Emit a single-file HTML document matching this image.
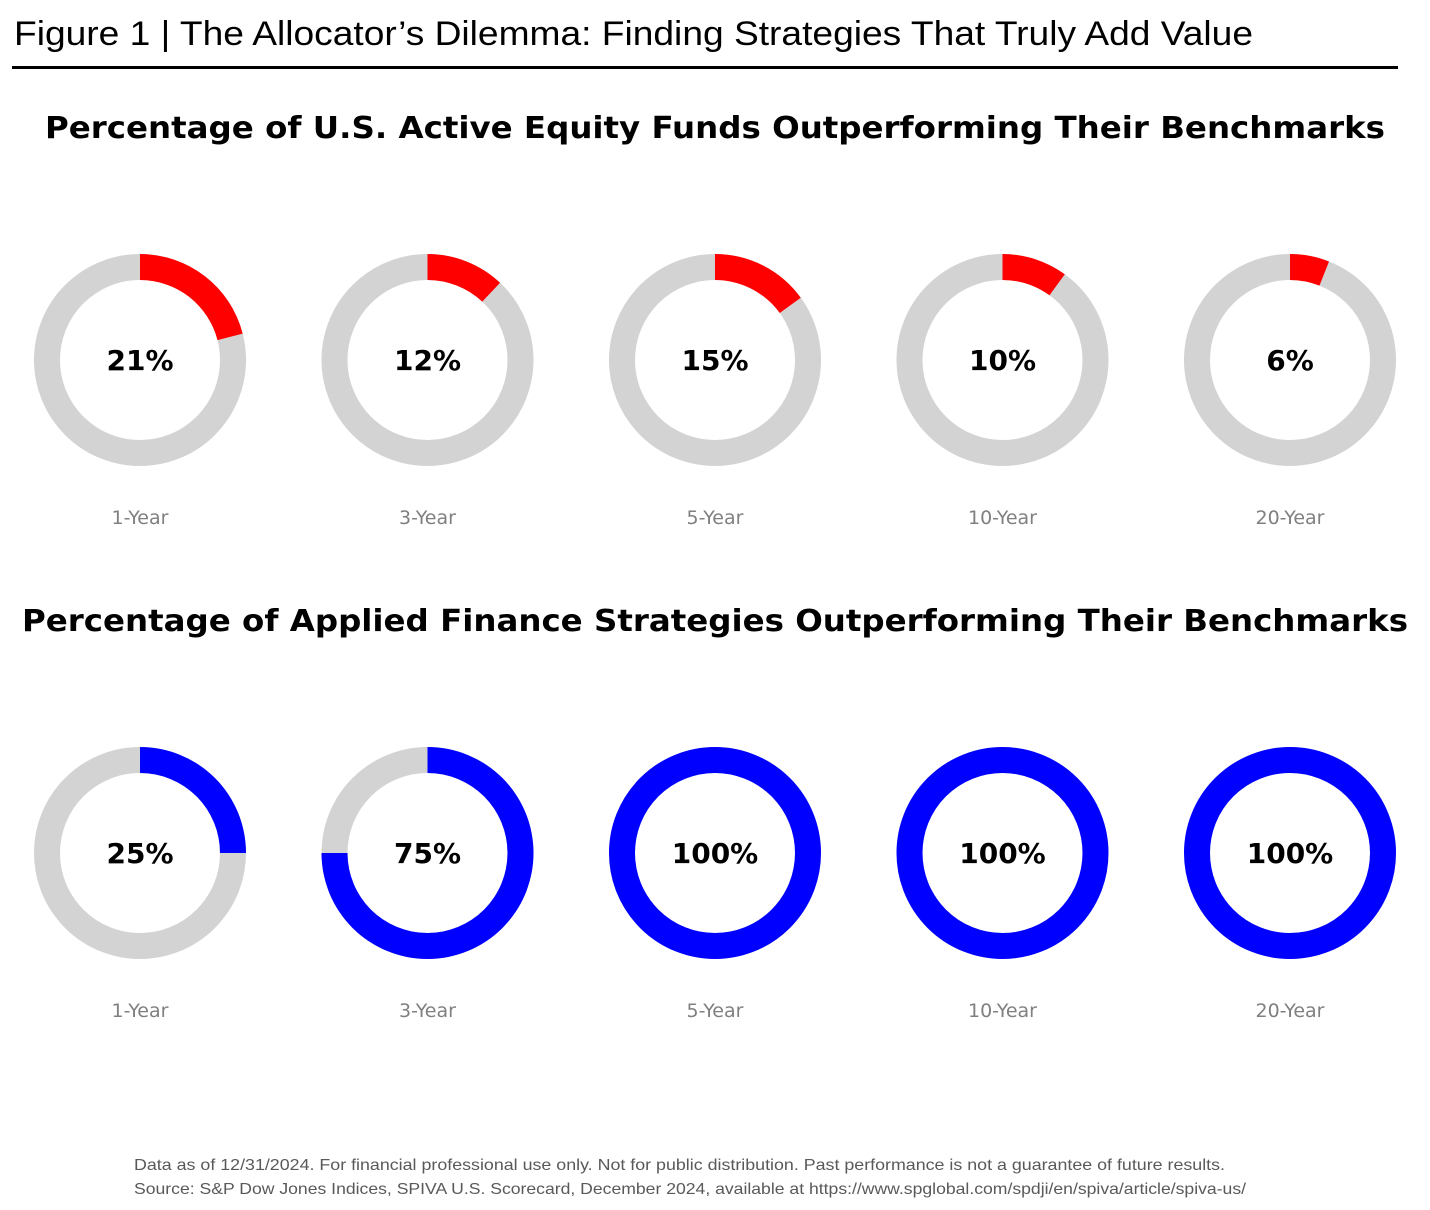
<!DOCTYPE html>
<html><head><meta charset="utf-8"><style>
html,body{margin:0;padding:0;background:#fff;}
svg{display:block;}
</style></head><body>
<svg id="chart" width="1430" height="1210" viewBox="0 0 1430 1210" xmlns="http://www.w3.org/2000/svg">
<text x="14" y="45" font-family="Liberation Sans, sans-serif" font-size="34" fill="#000" textLength="1239" lengthAdjust="spacingAndGlyphs">Figure 1 | The Allocator’s Dilemma: Finding Strategies That Truly Add Value</text>
<rect x="12" y="66" width="1386" height="3" fill="#000"/>
<text x="45" y="138" font-family="DejaVu Sans, sans-serif" font-weight="bold" font-size="30" fill="#000" textLength="1340" lengthAdjust="spacingAndGlyphs">Percentage of U.S. Active Equity Funds Outperforming Their Benchmarks</text>
<text x="22" y="631" font-family="DejaVu Sans, sans-serif" font-weight="bold" font-size="30" fill="#000" textLength="1386" lengthAdjust="spacingAndGlyphs">Percentage of Applied Finance Strategies Outperforming Their Benchmarks</text>
<g id="rows"></g>
<text x="134" y="1170" font-family="Liberation Sans, sans-serif" font-size="16" fill="#595959" textLength="1091" lengthAdjust="spacingAndGlyphs">Data as of 12/31/2024. For financial professional use only. Not for public distribution. Past performance is not a guarantee of future results.</text>
<text x="134" y="1194" font-family="Liberation Sans, sans-serif" font-size="16" fill="#595959" textLength="1112" lengthAdjust="spacingAndGlyphs">Source: S&amp;P Dow Jones Indices, SPIVA U.S. Scorecard, December 2024, available at https://www.spglobal.com/spdji/en/spiva/article/spiva-us/</text>
</svg>
<script>
const periods = ["1-Year","3-Year","5-Year","10-Year","20-Year"];
const spivaValues = [21,12,15,10,6];
const appliedValues = [25,75,100,100,100];

const NS = "http://www.w3.org/2000/svg";
const g = document.getElementById("rows");
const x0 = 140, dx = 287.5, R = 106, r = 80;
function xPos(i){ return x0 + i*dx; }
function arcPath(cx, cy, frac){
  const a = frac*2*Math.PI;
  const ex=cx+R*Math.sin(a), ey=cy-R*Math.cos(a);
  const ix=cx+r*Math.sin(a), iy=cy-r*Math.cos(a);
  const large = frac>0.5?1:0;
  return `M${cx} ${cy-R} A${R} ${R} 0 ${large} 1 ${ex} ${ey} L${ix} ${iy} A${r} ${r} 0 ${large} 0 ${cx} ${cy-r} Z`;
}
function drawRow(values, cy, color){
  values.forEach((v,i)=>{
    const cx = xPos(i);
    const bg = document.createElementNS(NS,"circle");
    bg.setAttribute("cx",cx); bg.setAttribute("cy",cy); bg.setAttribute("r",(R+r)/2);
    bg.setAttribute("fill","none"); bg.setAttribute("stroke","#d3d3d3"); bg.setAttribute("stroke-width",R-r);
    
    
    g.appendChild(bg);
    let p;
    if (v >= 99.99) {
      p = document.createElementNS(NS,"circle");
      p.setAttribute("cx",cx); p.setAttribute("cy",cy); p.setAttribute("r",(R+r)/2);
      p.setAttribute("fill","none"); p.setAttribute("stroke",color); p.setAttribute("stroke-width",R-r);
    } else {
      p = document.createElementNS(NS,"path");
      p.setAttribute("d",arcPath(cx,cy,v/100));
      p.setAttribute("fill",color);
    }
    
    
    g.appendChild(p);
    const t = document.createElementNS(NS,"text");
    t.setAttribute("x",cx); t.setAttribute("y",cy+10);
    t.setAttribute("text-anchor","middle");
    t.setAttribute("font-family","DejaVu Sans, sans-serif");
    t.setAttribute("font-weight","bold"); t.setAttribute("font-size","28");
    t.textContent = v+"%";
    
    
    g.appendChild(t);
    const l = document.createElementNS(NS,"text");
    l.setAttribute("x",cx); l.setAttribute("y",cy+164);
    l.setAttribute("text-anchor","middle");
    l.setAttribute("font-family","DejaVu Sans, sans-serif");
    l.setAttribute("font-size","19"); l.setAttribute("fill","#808080");
    l.textContent = periods[i];
    
    
    g.appendChild(l);
  });
}
drawRow(spivaValues, 360, "#ff0000");
drawRow(appliedValues, 853, "#0000ff");
</script>
</body></html>
